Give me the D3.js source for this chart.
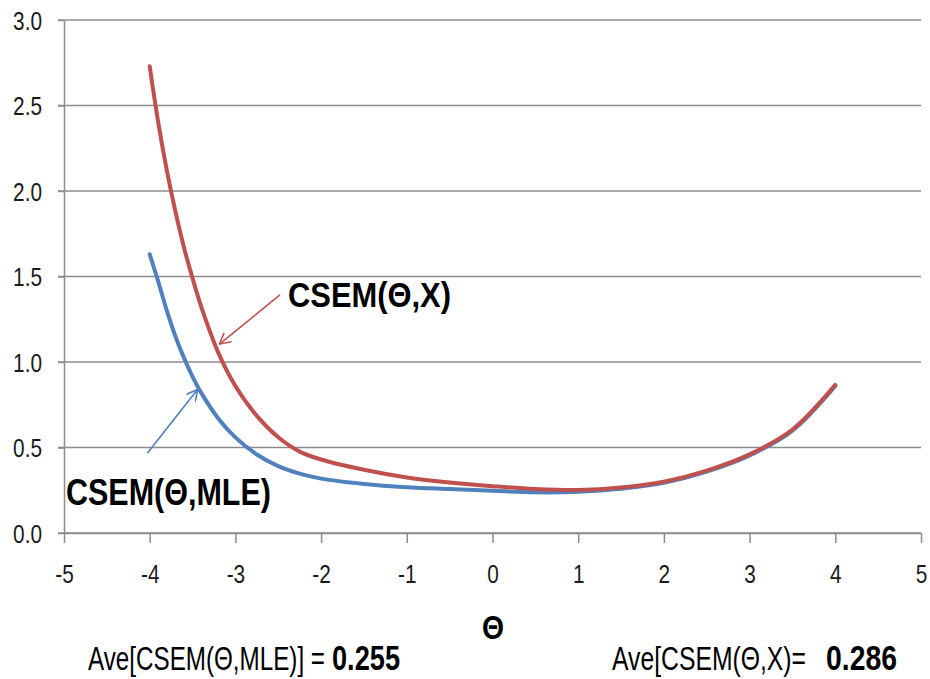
<!DOCTYPE html>
<html>
<head>
<meta charset="utf-8">
<script src="https://cdn.jsdelivr.net/npm/d3@7"></script>
<style>
  html, body { margin: 0; padding: 0; background: #fff; }
  svg { display: block; }
  .tick-label { font-family: "Liberation Sans", Arial, sans-serif; font-size: 26px; fill: #1a1a1a; }
</style>
</head>
<body>
<svg id="chart" width="930" height="679"></svg>
<script>
// ---- data ----
const theta = [-4, -3.9, -3.8, -3.7, -3.6, -3.5, -3.4, -3.2, -3.0, -2.75, -2.5, -2.25, -2.0, -1.5, -1.0, -0.5, 0, 0.5, 1.0, 1.5, 2.0, 2.5, 3.0, 3.5, 4.0];
const csemX   = [2.73, 2.40, 2.12, 1.88, 1.67, 1.49, 1.325, 1.055, 0.86, 0.685, 0.56, 0.476, 0.43, 0.37, 0.325, 0.295, 0.274, 0.257, 0.251, 0.266, 0.30, 0.365, 0.46, 0.605, 0.866];
const csemMLE = [1.63, 1.47, 1.30, 1.15, 1.024, 0.915, 0.821, 0.67, 0.559, 0.459, 0.391, 0.347, 0.318, 0.287, 0.268, 0.257, 0.247, 0.238, 0.241, 0.259, 0.294, 0.359, 0.454, 0.599, 0.86];
const xTicks = [-5, -4, -3, -2, -1, 0, 1, 2, 3, 4, 5];
const yTicks = [0.0, 0.5, 1.0, 1.5, 2.0, 2.5, 3.0];
const labelX = "CSEM(Θ,X)";
const labelMLE = "CSEM(Θ,MLE)";
const axisTitle = "Θ";
const aveMLE = ["Ave[CSEM(Θ,MLE)] =", "0.255"];
const aveX = ["Ave[CSEM(Θ,X)=", "0.286"];
// annotation anchors in data units
const arrowX = { from: [-2.48, 1.392], to: [-3.186, 1.105] };
const arrowMLE = { from: [-4.028, 0.466], to: [-3.442, 0.839] };
const labelXPos = [-2.386, 1.322];
const labelMLEPos = [-4.977, 0.164];

// ---- layout ----
const svg = d3.select("#chart");
const mLeft = 64, mRight = 921, mTop = 20, mBottom = 533;
const x = d3.scaleLinear().domain([-5, 5]).range([mLeft, mRight]);
const y = d3.scaleLinear().domain([0, 3]).range([mBottom, mTop]);
const gridColor = "#8c8c8c";
const red = "#C0504D", blue = "#4F81BD";

function squeeze(sel, f) {
  sel.each(function() {
    const w = this.getComputedTextLength();
    d3.select(this).attr("textLength", w * f).attr("lengthAdjust", "spacingAndGlyphs");
  });
}

// gridlines
svg.append("g").selectAll("line").data(yTicks.filter(d => d > 0)).join("line")
  .attr("x1", mLeft - 6).attr("x2", mRight)
  .attr("y1", d => y(d)).attr("y2", d => y(d))
  .attr("stroke", gridColor).attr("stroke-width", 1.5);

// x axis
const xAxis = svg.append("g").attr("transform", `translate(0,${mBottom})`)
  .call(d3.axisBottom(x).tickValues(xTicks).tickSize(10).tickSizeOuter(0).tickFormat(d3.format("d")));
xAxis.select(".domain").attr("stroke", gridColor).attr("stroke-width", 1.5);
xAxis.selectAll(".tick line").attr("stroke", gridColor).attr("stroke-width", 1.5);
xAxis.selectAll(".tick text").attr("class", "tick-label").attr("y", 32).attr("dy", "0.71em")
  .text(d => d < 0 ? "-" + Math.abs(d) : d);
squeeze(xAxis.selectAll(".tick text"), 0.8);

// y axis
const yAxis = svg.append("g").attr("transform", `translate(${mLeft},0)`)
  .call(d3.axisLeft(y).tickValues(yTicks).tickSize(6).tickSizeOuter(0).tickFormat(d3.format(".1f")));
yAxis.select(".domain").attr("stroke", gridColor).attr("stroke-width", 1.5);
yAxis.selectAll(".tick line").attr("stroke", gridColor).attr("stroke-width", 1.5);
yAxis.selectAll(".tick text").attr("class", "tick-label").attr("x", -22).attr("dy", "0.36em");
squeeze(yAxis.selectAll(".tick text"), 0.8);
svg.append("line").attr("x1", mLeft - 6).attr("x2", mRight).attr("y1", y(0)).attr("y2", y(0))
  .attr("stroke", gridColor).attr("stroke-width", 1.5);

// curves
const line = d3.line().x((d, i) => x(theta[i])).y(d => y(d)).curve(d3.curveCatmullRom.alpha(0.5));
svg.append("path").datum(csemMLE).attr("d", line)
  .attr("fill", "none").attr("stroke", blue).attr("stroke-width", 4).attr("stroke-linecap", "round");
svg.append("path").datum(csemX).attr("d", line)
  .attr("fill", "none").attr("stroke", red).attr("stroke-width", 4).attr("stroke-linecap", "round");

// arrow markers
const defs = svg.append("defs");
[["arrRed", red], ["arrBlue", blue]].forEach(([id, c]) => {
  defs.append("marker").attr("id", id).attr("viewBox", "0 0 12 12")
    .attr("refX", 11).attr("refY", 6).attr("markerWidth", 12).attr("markerHeight", 12)
    .attr("markerUnits", "userSpaceOnUse").attr("orient", "auto")
    .append("path").attr("d", "M0,0 L11,6 L0,12").attr("fill", "none")
    .attr("stroke", c).attr("stroke-width", 1.6);
});
svg.append("line")
  .attr("x1", x(arrowX.from[0])).attr("y1", y(arrowX.from[1]))
  .attr("x2", x(arrowX.to[0])).attr("y2", y(arrowX.to[1]))
  .attr("stroke", red).attr("stroke-width", 1.6).attr("marker-end", "url(#arrRed)");
svg.append("line")
  .attr("x1", x(arrowMLE.from[0])).attr("y1", y(arrowMLE.from[1]))
  .attr("x2", x(arrowMLE.to[0])).attr("y2", y(arrowMLE.to[1]))
  .attr("stroke", blue).attr("stroke-width", 1.6).attr("marker-end", "url(#arrBlue)");

// annotation labels
const annFont = '"Liberation Sans", Arial, sans-serif';
svg.append("text").attr("x", x(labelXPos[0])).attr("y", y(labelXPos[1]))
  .attr("font-family", annFont).attr("font-weight", "bold").attr("font-size", 35)
  .attr("textLength", 163).attr("lengthAdjust", "spacingAndGlyphs").attr("fill", "#000")
  .text(labelX);
svg.append("text").attr("x", x(labelMLEPos[0])).attr("y", y(labelMLEPos[1]))
  .attr("font-family", annFont).attr("font-weight", "bold").attr("font-size", 36)
  .attr("textLength", 205).attr("lengthAdjust", "spacingAndGlyphs").attr("fill", "#000")
  .text(labelMLE);

// axis title
svg.append("text").attr("x", 482).attr("y", 639)
  .attr("font-family", annFont).attr("font-weight", "bold").attr("font-size", 34)
  .attr("textLength", 22).attr("lengthAdjust", "spacingAndGlyphs")
  .attr("fill", "#000").text(axisTitle);

// bottom summary texts (narrow font look: small size stretched vertically)
function summary(parts, x0, w0, x1, w1) {
  svg.append("text").attr("transform", `translate(${x0},670) scale(1,1.4)`)
    .attr("font-family", annFont).attr("font-size", 24).attr("fill", "#000")
    .attr("textLength", w0).attr("lengthAdjust", "spacingAndGlyphs").text(parts[0]);
  svg.append("text").attr("transform", `translate(${x1},670) scale(1,1.4)`)
    .attr("font-family", annFont).attr("font-size", 25).attr("font-weight", "bold").attr("fill", "#000")
    .attr("textLength", w1).attr("lengthAdjust", "spacingAndGlyphs").text(parts[1]);
}
summary(aveMLE, 88, 237, 332, 68);
summary(aveX, 612, 194, 826, 71);
</script>
</body>
</html>
